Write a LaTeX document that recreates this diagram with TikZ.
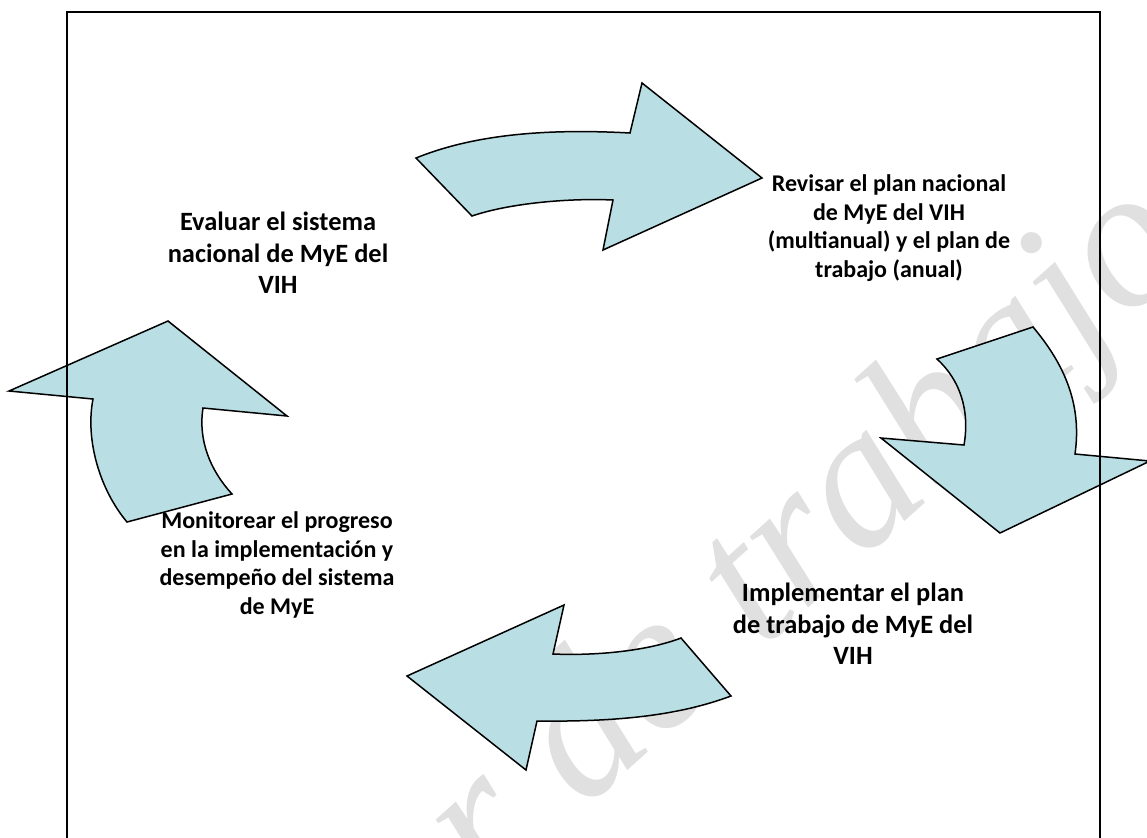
\documentclass[tikz,border=0pt]{standalone}
\usepackage{fontspec}
\setmainfont{Carlito}
\newfontfamily\wmfont{Liberation Serif}
\usepackage{tikz}
\usepackage{xcolor}
\definecolor{arrowfill}{RGB}{185,223,228}
\definecolor{wmgray}{RGB}{224,224,224}

\begin{document}
\begin{tikzpicture}[x=0.5pt, y=-0.5pt,
                    stage/.style={align=center, font=\bfseries\fontsize{12}{14.3}\selectfont},
                    bigstage/.style={align=center, font=\bfseries\fontsize{13.2}{15.8}\selectfont},
                    cyclearrow/.style={draw=black, fill=arrowfill, line width=0.75pt, line join=miter}]

                    \useasboundingbox (0,0) rectangle (1147,837);

                    \begin{scope}
                    \clip (0,0) rectangle (1147,837);
                    \node[rotate=42, anchor=base west, text=wmgray, inner sep=0pt,
                          font=\wmfont\itshape\fontsize{100}{100}\selectfont] (marca) at (-15,1350) {Borrador de trabajo};
                    \end{scope}

                    \draw[cyclearrow] (416,158) .. controls (470,136) and (540,128) .. (630,133)
                        -- (642,83) -- (762,178) -- (603,250) -- (613,200)
                        .. controls (570,198) and (510,203) .. (472,216) -- cycle;
                    \draw[cyclearrow] (937,359) -- (1033,327) .. controls (1065,365) and (1082,405) .. (1075,454)
                        -- (1150,461) -- (1000,533) -- (881,438) -- (964,445)
                        .. controls (970,410) and (960,380) .. (937,359) -- cycle;
                    \draw[cyclearrow] (681,638) -- (731,696) .. controls (680,715) and (620,722) .. (537,721)
                        -- (526,770) -- (407,676) -- (564,605) -- (553,654)
                        .. controls (600,656) and (650,650) .. (681,638) -- cycle;
                    \draw[cyclearrow] (127,522) -- (232,494) .. controls (210,470) and (198,440) .. (203,408)
                        -- (287,416) -- (168,321) -- (9,391) -- (93,399)
                        .. controls (85,440) and (100,490) .. (127,522) -- cycle;

                    \draw[line width=1pt] (67,840) -- (67,12) -- (1100,12) -- (1100,840);

                    \node[bigstage] (evaluar) at (278,253) {Evaluar el sistema\\nacional de MyE del\\VIH};
                    \node[stage] (revisar) at (889,228) {Revisar el plan nacional\\de MyE del VIH\\(multianual) y el plan de\\trabajo (anual)};
                    \node[bigstage] (implementar) at (853,624) {Implementar el plan\\de trabajo de MyE del\\VIH};
                    \node[stage] (monitorear) at (277,565) {Monitorear el progreso\\en la implementación y\\desempeño del sistema\\de MyE};
\end{tikzpicture}
\end{document}
